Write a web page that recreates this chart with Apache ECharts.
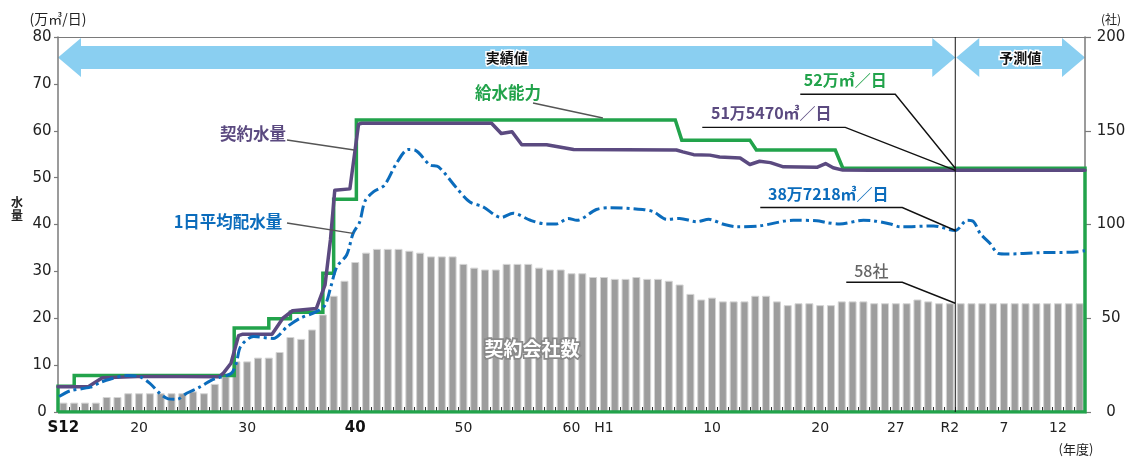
<!DOCTYPE html>
<html>
<head>
<meta charset="utf-8">
<script src="https://cdn.jsdelivr.net/npm/echarts@6.0.0/dist/echarts.min.js"></script>
<style>
  html, body { margin: 0; padding: 0; background: #fff; }
  #main { width: 1131px; height: 457px; }
</style>
</head>
<body>
<div id="main"></div>
<script>
// Fiscal years shown as bars (one bar per year)
const years = [];
for (let y = 1938; y <= 2032; y++) years.push(y);

// Labels shown under the axis, keyed by fiscal year
const tickLabels = {
  1938: 'S12', 1945: '20', 1955: '30', 1965: '40', 1975: '50', 1985: '60',
  1988: 'H1', 1998: '10', 2008: '20', 2015: '27', 2020: 'R2', 2025: '7', 2030: '12'
};
const boldTicks = ['S12', '40'];

// 契約会社数 (社), one value per fiscal year
const companies = [
  5, 5, 5, 5, 8, 8, 10, 10, 10, 10, 10, 10, 11, 10, 15, 19, 27, 27, 29, 29,
  32, 40, 39, 44, 52, 62, 70, 80, 85, 87, 87, 87, 86, 85, 83, 83, 83, 79, 77, 76,
  76, 79, 79, 79, 77, 76, 76, 74, 74, 72, 72, 71, 71, 72, 71, 71, 70, 68, 63, 60,
  61, 59, 59, 59, 62, 62, 59, 57, 58, 58, 57, 57, 59, 59, 59, 58, 58, 58, 58, 60,
  59, 58, 58, 58, 58, 58, 58, 58, 58, 58, 58, 58, 58, 58, 58
];

// 給水能力 (万㎥/日): [year, value], closed along the base line
const capacity = [
  [1937.5, 0], [1937.5, 5.5], [1939, 5.5], [1939, 7.8], [1953.8, 7.8], [1953.8, 17.9],
  [1957, 17.9], [1957, 19.9], [1959, 19.9], [1959, 21.3], [1962, 21.3], [1962, 29.6],
  [1963, 29.6], [1963, 45.4], [1965.1, 45.4], [1965.1, 62.3], [1994.6, 62.3], [1995.2, 58.0],
  [2001.5, 58.0], [2002.1, 55.9], [2009.4, 55.9], [2010.1, 52.0], [2032.5, 52.0],
  [2032.5, 0], [1937.5, 0]
];

// 契約水量 (万㎥/日)
const contracted = [
  [1937.5, 5.4], [1940.3, 5.4], [1941.6, 7.3], [1945.5, 7.6], [1952.4, 7.5], [1952.8, 8.3],
  [1953.5, 10.4], [1954.2, 16.3], [1954.6, 16.6], [1957.3, 16.6], [1958.3, 20.0], [1959.2, 21.6],
  [1961.4, 22.1], [1962.2, 27.1], [1962.7, 36.7], [1963.1, 47.3], [1964.5, 47.6], [1965.3, 61.4],
  [1965.6, 61.6], [1977.6, 61.6], [1978.5, 59.4], [1979.5, 59.8], [1980.4, 57.0], [1982.7, 57.0],
  [1985.2, 56.0], [1994.7, 55.9], [1995.3, 55.5], [1996.3, 54.9], [1997.8, 54.8], [1998.7, 54.4],
  [2000.6, 54.2], [2001.5, 52.8], [2002.4, 53.5], [2003.4, 53.2], [2004.6, 52.3], [2007.7, 52.2],
  [2008.5, 53.0], [2009.2, 52.1], [2010.1, 51.6], [2012.6, 51.547], [2032.5, 51.547]
];

// 1日平均配水量 (万㎥/日)
const dailyAverage = [
  [1937.6, 3.3], [1938.6, 4.5], [1940.5, 5.3], [1941.4, 6.3], [1942.3, 7.0], [1943.9, 7.8],
  [1945.1, 7.5], [1946.0, 6.1], [1946.9, 4.0], [1947.7, 2.8], [1948.5, 2.7], [1949.4, 4.0],
  [1950.6, 5.3], [1951.9, 7.0], [1953.5, 8.2], [1954.0, 10.5], [1954.4, 14.0], [1955.6, 16.1],
  [1957.4, 15.7], [1958.7, 18.2], [1959.9, 20.0], [1961.4, 21.4], [1962.2, 22.8], [1962.7, 26.4],
  [1963.3, 31.0], [1964.2, 33.5], [1964.8, 38.1], [1965.4, 40.5], [1965.9, 45.0], [1966.7, 47.0],
  [1967.7, 48.4], [1968.8, 53.0], [1969.9, 56.0], [1970.5, 55.9], [1971.9, 52.7], [1972.7, 52.3],
  [1974.4, 47.7], [1975.6, 44.8], [1976.8, 43.8], [1978.5, 41.5], [1979.6, 42.4], [1981.2, 40.9],
  [1982.7, 40.1], [1983.6, 40.1], [1984.7, 41.3], [1985.5, 40.9], [1987.3, 43.2], [1988.6, 43.6],
  [1991.6, 43.2], [1992.6, 42.7], [1993.8, 41.1], [1995.0, 41.3], [1996.6, 40.6], [1997.7, 41.1],
  [1999.0, 40.1], [2000.3, 39.5], [2002.4, 39.7], [2005.5, 40.9], [2007.7, 40.8], [2008.6, 40.4],
  [2009.8, 40.1], [2012.0, 40.9], [2012.9, 40.8], [2014.5, 40.1], [2015.4, 39.5], [2018.5, 39.7],
  [2020.5, 38.7218], [2021.6, 40.9], [2022.2, 40.6], [2022.8, 38.1], [2023.7, 36.0], [2024.5, 33.8],
  [2025.3, 33.7], [2028.3, 34.0], [2031.4, 34.1], [2032.5, 34.4]
];

// Boundary between results and forecast (end of fiscal R2)
const splitYear = 2020.5;

const FF = '"Noto Sans CJK JP", "Noto Sans", sans-serif';
const NF = '"DejaVu Sans", "Noto Sans CJK JP", sans-serif';
const GREEN = '#22a34b';
const PURPLE = '#5b4a80';
const BLUE = '#0b6cbc';
const AXIS = '#7a7a7a';

const chart = echarts.init(document.getElementById('main'), null, { renderer: 'canvas' });

const option = {
  animation: false,
  backgroundColor: '#fff',
  grid: { left: 58, right: 46, top: 37, bottom: 45 },
  xAxis: [
    {
      type: 'category',
      data: years,
      boundaryGap: true,
      position: 'bottom',
      axisLine: { show: true, lineStyle: { color: AXIS, width: 1 } },
      axisTick: { show: true, inside: true, length: 5, interval: 0, lineStyle: { color: '#333', width: 1 } },
      axisLabel: {
        interval: 0,
        margin: 9,
        fontFamily: NF,
        fontSize: 14,
        color: '#222',
        formatter: v => {
          const t = tickLabels[v] || '';
          return boldTicks.includes(t) ? '{b|' + t + '}' : t;
        },
        rich: { b: { fontWeight: 'bold', fontFamily: NF, fontSize: 15, color: '#111' } }
      },
      splitLine: { show: false }
    },
    {
      type: 'value',
      min: 1937.5,
      max: 2032.5,
      position: 'top',
      axisLine: { show: true, onZero: false, lineStyle: { color: AXIS, width: 1.2 } },
      axisTick: { show: false },
      axisLabel: { show: false },
      splitLine: { show: false }
    }
  ],
  yAxis: [
    {
      type: 'value',
      min: 0, max: 80, interval: 10,
      position: 'left',
      axisLine: { show: true, lineStyle: { color: AXIS, width: 1.5 } },
      axisTick: { show: true, length: 4, lineStyle: { color: AXIS, width: 1.2 } },
      axisLabel: { fontFamily: NF, fontSize: 15, color: '#222', align: 'center', margin: 16 },
      splitLine: { show: false }
    },
    {
      type: 'value',
      min: 0, max: 200, interval: 50,
      position: 'right',
      axisLine: { show: true, lineStyle: { color: AXIS, width: 1.5 } },
      axisTick: { show: true, length: 6, lineStyle: { color: AXIS, width: 1.2 } },
      axisLabel: { fontFamily: NF, fontSize: 15, color: '#222', align: 'center', margin: 26 },
      splitLine: { show: false }
    }
  ],
  series: [
    {
      name: '契約会社数',
      type: 'bar',
      xAxisIndex: 0, yAxisIndex: 1,
      data: companies,
      barWidth: 8,
      itemStyle: { color: '#9d9d9d', borderColor: '#d4d4d4', borderWidth: 1 },
      z: 1,
      silent: true
    },
    {
      name: '給水能力',
      type: 'line',
      xAxisIndex: 1, yAxisIndex: 0,
      data: capacity,
      symbol: 'none',
      lineStyle: { color: GREEN, width: 3.5, join: 'miter' },
      z: 3,
      silent: true
    },
    {
      name: '契約水量',
      type: 'line',
      xAxisIndex: 1, yAxisIndex: 0,
      data: contracted,
      symbol: 'none',
      lineStyle: { color: PURPLE, width: 3.5, join: 'round', cap: 'round' },
      z: 4,
      silent: true
    },
    {
      name: '1日平均配水量',
      type: 'line',
      xAxisIndex: 1, yAxisIndex: 0,
      data: dailyAverage,
      symbol: 'none',
      smooth: 0.3,
      lineStyle: { color: BLUE, width: 3, type: [12, 4, 3, 4] },
      z: 5,
      silent: true
    }
  ]
};

chart.setOption(option);

// Pixel helpers through the chart's own axes
const X = v => chart.convertToPixel({ xAxisIndex: 1 }, v);
const YL = v => chart.convertToPixel({ yAxisIndex: 0 }, v);
const YR = v => chart.convertToPixel({ yAxisIndex: 1 }, v);

const xl = X(1937.5), xs = X(splitYear), xr = X(2032.5);
const yTop = YL(80), yBase = YL(0);

// Double-headed band arrow
function bandArrow(a, b) {
  const cy = yTop + 20.5, hh = 19.5, bt = 11.5, bb = 11.5, hl = 23;
  return [
    [a, cy], [a + hl, cy - hh], [a + hl, cy - bt], [b - hl, cy - bt], [b - hl, cy - hh],
    [b, cy], [b - hl, cy + hh], [b - hl, cy + bb], [a + hl, cy + bb], [a + hl, cy + hh]
  ];
}

function txt(text, x, y, opt) {
  return {
    type: 'text', x, y, z: 20, silent: true,
    style: Object.assign({
      text, fill: '#222', fontFamily: FF, fontSize: 16, fontWeight: 'bold',
      align: 'center', verticalAlign: 'middle'
    }, opt || {})
  };
}
function line(points, color, width) {
  return {
    type: 'polyline', z: 19, silent: true,
    shape: { points },
    style: { stroke: color, lineWidth: width, fill: null }
  };
}

const arrowCy = yTop + 20.5;
const elements = [];

// 実績値 / 予測値 arrows
elements.push({ type: 'polygon', z: 0, silent: true, shape: { points: bandArrow(xl, xs) }, style: { fill: '#8acff1' } });
elements.push({ type: 'polygon', z: 0, silent: true, shape: { points: bandArrow(xs + 1, xr) }, style: { fill: '#8acff1' } });
elements.push(txt('実績値', (xl + xs) / 2, arrowCy, { fontSize: 14, fill: '#111', stroke: '#fff', lineWidth: 3 }));
elements.push(txt('予測値', (xs + xr) / 2, arrowCy, { fontSize: 14, fill: '#111', stroke: '#fff', lineWidth: 3 }));

// Results / forecast divider
elements.push({ type: 'line', z: 6, silent: true, shape: { x1: xs, y1: yTop, x2: xs, y2: yBase }, style: { stroke: '#111', lineWidth: 1 } });

// Series labels with leaders
elements.push(txt('給水能力', 508, 93, { fill: GREEN, fontSize: 16.5 }));
elements.push(line([[533, 103], [X(1987.9), YL(62.3) - 2]], '#555', 1.4));
elements.push(txt('契約水量', 253, 134, { fill: PURPLE, fontSize: 16.5 }));
elements.push(line([[287, 140], [X(1964.9), YL(55.9)]], '#555', 1.4));
elements.push(txt('1日平均配水量', 228, 222, { fill: BLUE, fontSize: 16.5 }));
elements.push(line([[287, 223], [X(1964.8), YL(38.1)]], '#555', 1.4));

// Values at R2 with callouts
const aCap = YL(52), aCon = YL(51.547), aAvg = YL(38.7218), aCo = YR(58);
elements.push(txt('52万㎥／日', xs - 110, aCap - 88, { fill: GREEN, fontSize: 16 }));
elements.push(line([[xs - 155, aCap - 74], [xs - 60, aCap - 74], [xs, aCap]], '#111', 1.4));
elements.push(txt('51万5470㎥／日', xs - 184, aCon - 57, { fill: PURPLE, fontSize: 16 }));
elements.push(line([[xs - 253, aCon - 43], [xs - 110, aCon - 43], [xs, aCon]], '#111', 1.4));
elements.push(txt('38万7218㎥／日', xs - 127, aAvg - 37, { fill: BLUE, fontSize: 16 }));
elements.push(line([[xs - 195, aAvg - 23], [xs - 53, aAvg - 23], [xs, aAvg]], '#111', 1.4));
elements.push(txt('58社', xs - 84, aCo - 32, { fill: '#666', fontSize: 16, fontWeight: 500 }));
elements.push(line([[xs - 109, aCo - 21], [xs - 53, aCo - 21], [xs, aCo]], '#111', 1.4));

// Bar series label
elements.push(txt('契約会社数', 532, 349, { fill: '#fff', stroke: '#8a8a8a', lineWidth: 3.5, fontSize: 19 }));

// Axis units
elements.push(txt('(万㎥/日)', 58, 19, { fontSize: 14, fontWeight: 'normal', fill: '#222' }));
elements.push(txt('水\n量', 17, 209, { fontSize: 12, lineHeight: 13, fill: '#222' }));
elements.push(txt('(社)', 1111, 19, { fontSize: 12, fontWeight: 'normal', fill: '#222' }));
elements.push(txt('(年度)', 1076, 449, { fontSize: 13, fontWeight: 'normal', fill: '#222' }));

chart.setOption({ graphic: { elements } });
</script>
</body>
</html>
